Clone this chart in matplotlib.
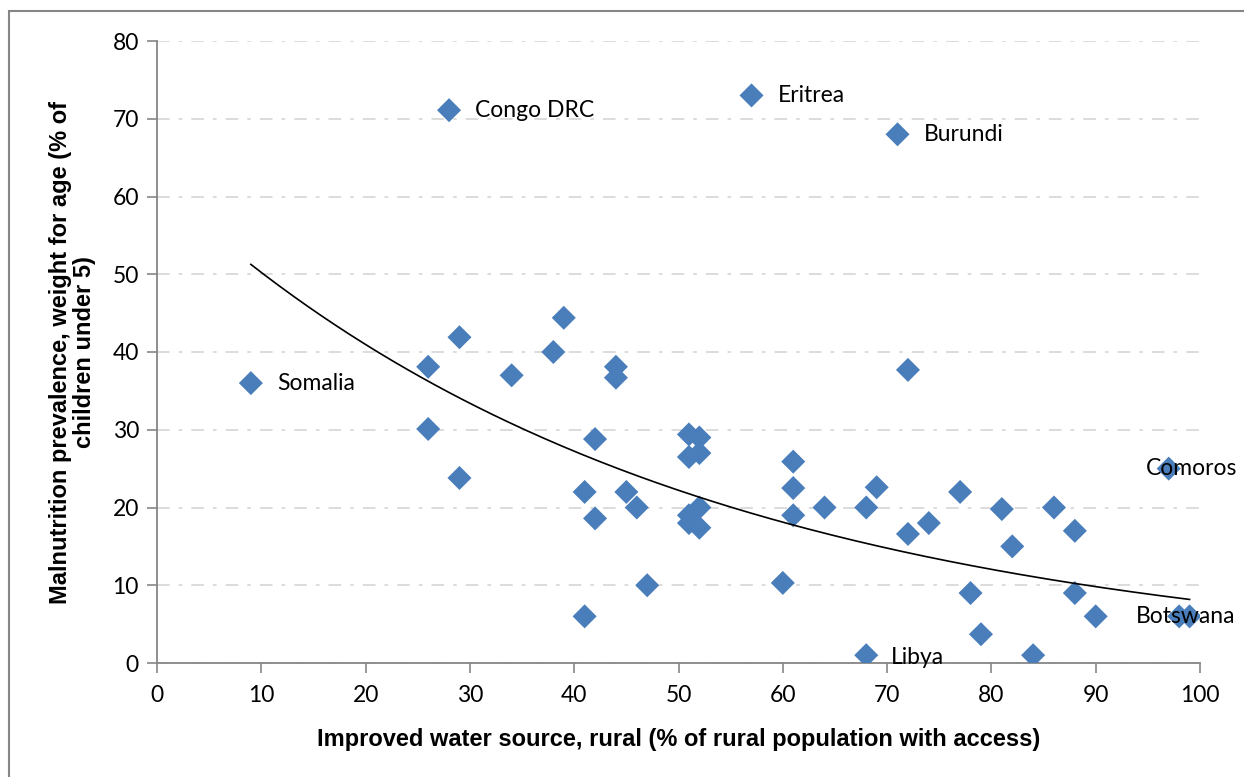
import numpy as np
import matplotlib
matplotlib.use("Agg")
import matplotlib.pyplot as plt
from matplotlib.patches import Rectangle

# Data
water = [28, 57, 71, 9, 26, 26, 29, 29, 34, 38, 39, 44, 44, 42, 41, 42, 45, 46,
         41, 47, 51, 52, 51, 52, 52, 51, 51, 52, 60, 61, 61, 61, 64, 68, 69, 72,
         72, 74, 77, 78, 81, 82, 79, 84, 68, 86, 88, 88, 90, 97, 98, 99]
malnutrition = [71.1, 73, 68, 36, 38.1, 30.1, 41.9, 23.8, 37, 40, 44.4, 38.1,
                36.7, 28.8, 22, 18.6, 22, 20, 6, 10, 29.4, 29, 26.5, 27, 20, 19,
                18, 17.4, 10.3, 25.9, 22.5, 19, 20, 20, 22.6, 16.6, 37.7, 18, 22,
                9, 19.8, 15, 3.7, 1, 1, 20, 17, 9, 6, 25, 6, 6]

label_names = ["Congo DRC", "Eritrea", "Burundi", "Somalia", "Comoros", "Botswana", "Libya"]
label_x = [28, 57, 71, 9, 97, 98, 68]
label_y = [71.1, 73, 68, 36, 25, 6, 1]

# exponential trend y = a * exp(b x)
trend_a = 61.6
trend_b = -0.0204

x_ticks = [0, 10, 20, 30, 40, 50, 60, 70, 80, 90, 100]
y_ticks = [0, 10, 20, 30, 40, 50, 60, 70, 80]

W, H = 1244, 777
fig = plt.figure(figsize=(W / 100, H / 100), dpi=100)
ax = fig.add_axes([157 / W, 1 - 663 / H, (1200 - 157) / W, (663 - 41) / H])

# figure frame
fig.patches.append(Rectangle((9 / W, -0.1), 1.2, 1 - 11 / H + 0.1,
                             transform=fig.transFigure, fill=False,
                             edgecolor="#868686", lw=1.5, zorder=0))

tick_font = "Lato"
spine_c = "#868686"

ax.set_xlim(0, 100)
ax.set_ylim(0, 80)
ax.set_xticks(x_ticks)
ax.set_yticks(y_ticks)
ax.tick_params(axis="both", direction="out", length=7, width=1.2, color=spine_c,
               labelsize=16.5, pad=6)
ax.tick_params(axis="x", pad=9)
for lab in ax.get_xticklabels() + ax.get_yticklabels():
    lab.set_fontfamily(tick_font)
for s in ["top", "right"]:
    ax.spines[s].set_visible(False)
for s in ["left", "bottom"]:
    ax.spines[s].set_color(spine_c)
    ax.spines[s].set_linewidth(1.3)

ax.yaxis.grid(True, color="#d9d9d9", linestyle=(0, (7, 5, 2, 5)), linewidth=1.3)
ax.set_axisbelow(True)

ax.scatter(water, malnutrition, marker="D", s=150, color="#4a7ebb",
           edgecolors="none", zorder=3)

xs = np.linspace(min(water), max(water), 200)
ax.plot(xs, trend_a * np.exp(trend_b * xs), color="black", lw=1.2, zorder=4)

offsets = {"Comoros": (-23, 0), "Botswana": (-43, 0), "Libya": (25, -2)}
for n, x, y in zip(label_names, label_x, label_y):
    dx, dy = offsets.get(n, (26, 0))
    ax.annotate(n, (x, y), xytext=(dx, dy), textcoords="offset pixels",
                ha="left", va="center", fontsize=16.5, fontfamily=tick_font,
                zorder=5, annotation_clip=False)

ax.set_xlabel("Improved water source, rural (% of rural population with access)",
              fontsize=17, fontweight="bold", fontfamily="Liberation Sans", labelpad=16)
ax.set_ylabel("Malnutrition prevalence, weight for age (% of\nchildren under 5)",
              fontsize=17, fontweight="bold", fontfamily="Liberation Sans", labelpad=12,
              linespacing=1.05)

fig.savefig("out.png", dpi=100)
